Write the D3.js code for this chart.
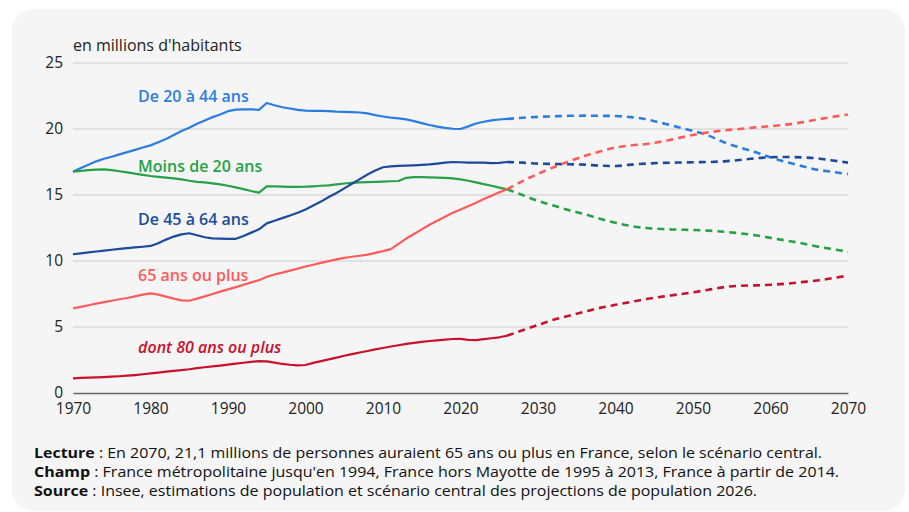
<!DOCTYPE html>
<html>
<head>
<meta charset="utf-8">
<script src="https://cdn.jsdelivr.net/npm/d3@7"></script>
<style>
  body { margin: 0; background: #fff; }
  text { font-family: "Open Sans", "Noto Sans", sans-serif; }
</style>
</head>
<body>
<div id="chart"></div>
<script>
// years
var histYears = d3.range(1970, 2027);
var projYears = d3.range(2026, 2071, 2);

// population by age group, in millions (observed 1970-2026)
var hist2044 = [16.77, 17.05, 17.3, 17.55, 17.75, 17.9, 18.08, 18.25, 18.42, 18.6,
  18.76, 19.0, 19.25, 19.55, 19.85, 20.1, 20.4, 20.65, 20.9, 21.1,
  21.35, 21.47, 21.49, 21.49, 21.45, 21.97, 21.8, 21.65, 21.55, 21.45,
  21.39, 21.38, 21.37, 21.36, 21.32, 21.3, 21.28, 21.25, 21.18, 21.05,
  20.95, 20.86, 20.8, 20.73, 20.6, 20.45, 20.3, 20.18, 20.08, 20.02,
  20.0, 20.2, 20.42, 20.55, 20.65, 20.72, 20.76];
var histMoins20 = [16.77, 16.83, 16.88, 16.92, 16.94, 16.88, 16.8, 16.72, 16.62, 16.52,
  16.44, 16.38, 16.32, 16.26, 16.18, 16.08, 16.0, 15.95, 15.88, 15.8,
  15.7, 15.58, 15.45, 15.3, 15.18, 15.66, 15.65, 15.63, 15.62, 15.62,
  15.63, 15.66, 15.7, 15.73, 15.8, 15.87, 15.92, 15.95, 15.98, 16.0,
  16.02, 16.04, 16.06, 16.3, 16.36, 16.36, 16.34, 16.32, 16.3, 16.26,
  16.18, 16.08, 15.96, 15.82, 15.7, 15.56, 15.43];
var hist4564 = [10.51, 10.58, 10.65, 10.72, 10.78, 10.85, 10.92, 10.98, 11.03, 11.08,
  11.14, 11.35, 11.62, 11.85, 12.02, 12.1, 11.95, 11.8, 11.72, 11.7,
  11.68, 11.68, 11.9, 12.15, 12.4, 12.85, 13.05, 13.25, 13.45, 13.65,
  13.9, 14.2, 14.5, 14.85, 15.15, 15.5, 15.85, 16.2, 16.55, 16.85,
  17.1, 17.17, 17.2, 17.22, 17.25, 17.28, 17.32, 17.38, 17.45, 17.5,
  17.48, 17.46, 17.46, 17.45, 17.42, 17.44, 17.5];
var hist65 = [6.41, 6.53, 6.65, 6.77, 6.88, 6.99, 7.1, 7.2, 7.32, 7.45,
  7.55, 7.45, 7.3, 7.15, 7.02, 6.99, 7.15, 7.32, 7.5, 7.68,
  7.85, 8.02, 8.2, 8.38, 8.55, 8.81, 8.98, 9.12, 9.27, 9.42,
  9.58, 9.72, 9.86, 9.99, 10.12, 10.24, 10.32, 10.4, 10.48, 10.62,
  10.75, 10.9, 11.3, 11.7, 12.05, 12.4, 12.75, 13.05, 13.35, 13.65,
  13.9, 14.15, 14.42, 14.7, 14.95, 15.2, 15.43];
var hist80 = [1.11, 1.14, 1.16, 1.19, 1.21, 1.24, 1.27, 1.31, 1.36, 1.42,
  1.49, 1.55, 1.62, 1.68, 1.74, 1.8, 1.88, 1.95, 2.02, 2.08,
  2.15, 2.22, 2.29, 2.36, 2.42, 2.4, 2.3, 2.2, 2.14, 2.1,
  2.12, 2.28, 2.42, 2.55, 2.68, 2.82, 2.95, 3.07, 3.18, 3.3,
  3.41, 3.52, 3.62, 3.72, 3.8, 3.87, 3.94, 3.99, 4.04, 4.09,
  4.1, 4.02, 4.0, 4.08, 4.15, 4.22, 4.34];

// central scenario projections 2026-2070 (every 2 years)
var proj2044 = [20.76, 20.85, 20.92, 20.96, 21.0, 21.01, 21.0, 20.98, 20.9, 20.73,
  20.45, 20.15, 19.85, 19.5, 19.0, 18.6, 18.25, 17.85, 17.5, 17.2, 16.92, 16.75, 16.59];
var projMoins20 = [15.43, 15.0, 14.55, 14.2, 13.85, 13.55, 13.2, 12.9, 12.65, 12.5,
  12.42, 12.38, 12.35, 12.3, 12.22, 12.1, 11.95, 11.75, 11.55, 11.35, 11.1, 10.9, 10.7];
var proj4564 = [17.5, 17.45, 17.38, 17.35, 17.33, 17.3, 17.22, 17.2, 17.3, 17.38,
  17.43, 17.46, 17.48, 17.5, 17.55, 17.65, 17.78, 17.86, 17.88, 17.85, 17.78, 17.62, 17.45];
var proj65 = [15.43, 16.05, 16.6, 17.1, 17.55, 17.95, 18.3, 18.6, 18.75, 18.87,
  19.05, 19.3, 19.55, 19.75, 19.9, 20.0, 20.12, 20.22, 20.33, 20.5, 20.72, 20.92, 21.1];
var proj80 = [4.34, 4.75, 5.15, 5.55, 5.85, 6.15, 6.45, 6.68, 6.9, 7.12,
  7.3, 7.46, 7.63, 7.82, 8.02, 8.12, 8.15, 8.2, 8.28, 8.4, 8.52, 8.7, 8.89];

var seriesNames = ["De 20 à 44 ans", "Moins de 20 ans", "De 45 à 64 ans", "65 ans ou plus", "dont 80 ans ou plus"];
var seriesColors = ["#2b7de1", "#26a146", "#1a4b9c", "#ff5b5b", "#c9102c"];
var seriesHist = [hist2044, histMoins20, hist4564, hist65, hist80];
var seriesProj = [proj2044, projMoins20, proj4564, proj65, proj80];
var labelValues = [22.05, 16.78, 12.69, 8.45, 3.03];

var yTicks = [0, 5, 10, 15, 20, 25];
var xTicks = d3.range(1970, 2071, 10);

var width = 909, height = 512;
var margin = {left: 73, right: 61, top: 63, bottom: 119};

var svg = d3.select("#chart").append("svg")
  .attr("width", width)
  .attr("height", height);

// card background
svg.append("rect")
  .attr("x", 12).attr("y", 9)
  .attr("width", 893).attr("height", 502)
  .attr("rx", 22)
  .attr("fill", "#f5f5f5");

var x = d3.scaleLinear().domain([1970, 2070]).range([margin.left, width - margin.right]);
var y = d3.scaleLinear().domain([0, 25]).range([height - margin.bottom, margin.top]);

// gridlines
svg.append("g")
  .selectAll("line")
  .data(yTicks.filter(function(d) { return d > 0; }))
  .enter()
  .append("line")
  .attr("x1", x(1970)).attr("x2", x(2070))
  .attr("y1", function(d) { return y(d); })
  .attr("y2", function(d) { return y(d); })
  .attr("stroke", "#cccccc")
  .attr("stroke-width", 1.2);

// y tick labels
svg.append("g")
  .selectAll("text")
  .data(yTicks)
  .enter()
  .append("text")
  .text(function(d) { return d; })
  .attr("x", margin.left - 10)
  .attr("y", function(d) { return y(d) + 4.5; })
  .attr("font-size", "15.5px")
  .attr("fill", "#222")
  .style("text-anchor", "end");

// x axis
var xAxis = svg.append("g")
  .attr("transform", "translate(0," + y(0) + ")")
  .call(d3.axisBottom(x).tickValues(xTicks).tickFormat(d3.format("d")).tickSize(0).tickPadding(10));
xAxis.select(".domain").attr("stroke", "#666").attr("stroke-width", 1.6);
xAxis.selectAll("text")
  .attr("font-family", "'Open Sans', sans-serif")
  .attr("font-size", "15.5px")
  .attr("fill", "#222");

svg.append("text")
  .text("en millions d'habitants")
  .attr("x", margin.left)
  .attr("y", 51)
  .attr("font-size", "16px")
  .attr("fill", "#222");

var lineHist = d3.line()
  .x(function(d) { return x(d[0]); })
  .y(function(d) { return y(d[1]); });
var lineProj = d3.line()
  .curve(d3.curveMonotoneX)
  .x(function(d) { return x(d[0]); })
  .y(function(d) { return y(d[1]); });

seriesHist.forEach(function(vals, i) {
  svg.append("path")
    .datum(histYears.map(function(yr, j) { return [yr, vals[j]]; }))
    .attr("d", lineHist)
    .attr("fill", "none")
    .attr("stroke", seriesColors[i])
    .attr("stroke-width", 2.2)
    .attr("stroke-linejoin", "round");
  svg.append("path")
    .datum(projYears.map(function(yr, j) { return [yr, seriesProj[i][j]]; }))
    .attr("d", lineProj)
    .attr("fill", "none")
    .attr("stroke", seriesColors[i])
    .attr("stroke-width", 2.6)
    .attr("stroke-dasharray", "7,5");
});

// series labels
svg.selectAll("text.labels")
  .data(seriesNames)
  .enter()
  .append("text")
  .attr("class", "labels")
  .text(function(d) { return d; })
  .attr("x", x(1978.4))
  .attr("y", function(d, i) { return y(labelValues[i]); })
  .attr("font-size", "16px")
  .attr("font-weight", 600)
  .attr("font-style", function(d, i) { return i === 4 ? "italic" : "normal"; })
  .attr("fill", function(d, i) { return seriesColors[i]; });

// footer notes
var notes = [
  ["Lecture", " : En 2070, 21,1 millions de personnes auraient 65 ans ou plus en France, selon le scénario central.", 788],
  ["Champ", " : France métropolitaine jusqu'en 1994, France hors Mayotte de 1995 à 2013, France à partir de 2014.", 805],
  ["Source", " : Insee, estimations de population et scénario central des projections de population 2026.", 723]
];
notes.forEach(function(n, i) {
  var t = svg.append("text")
    .attr("x", 34)
    .attr("y", 458 + i * 19)
    .attr("font-size", "14px")
    .attr("fill", "#111")
    .attr("textLength", n[2])
    .attr("lengthAdjust", "spacingAndGlyphs");
  t.append("tspan").attr("font-weight", 700).text(n[0]);
  t.append("tspan").text(n[1]);
});
</script>
</body>
</html>
